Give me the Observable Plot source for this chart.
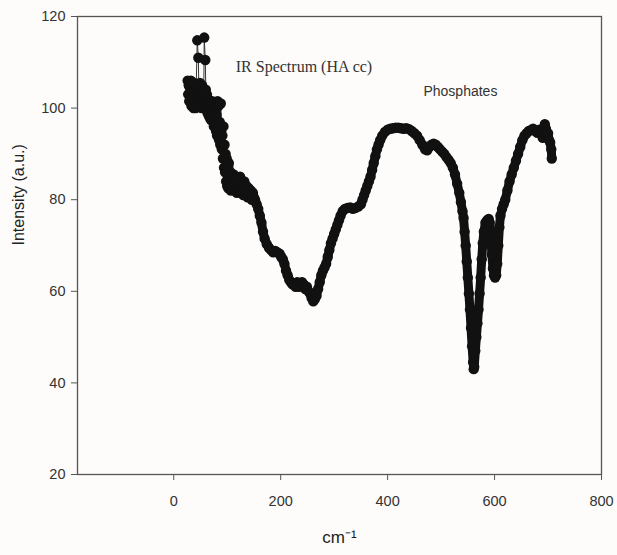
<!DOCTYPE html>
<html><head><meta charset="utf-8">
<script src="https://cdn.jsdelivr.net/npm/d3@7"></script>
<script src="https://cdn.jsdelivr.net/npm/@observablehq/plot@0.6"></script>
<style>
html,body{margin:0;padding:0;background:#fdfcfa;}
#chart svg{display:block;}
</style></head><body><div id="chart"></div>
<script>
const wavenumber = [26,27,28,29,30,31,32,33,34,35,36,37,38,39,40,41,42,44,46,47,48,49,50,51,52,53,54,55,56,57,59,60,61,62,63,64,65,66,67,68,69,70,71,72,73,74,75,76,77,78,79,80,81,82,83,84,85,86,87,88,89,90,91,92,93,94,95,96,97,98,99,100,101,102,103,104,106,107,108,110,112,114,116,118,120,122,124,126,128,130,132,134,136,138,140,142,144,146,148,150,
152,155,158,161,164,167,170,174,178,182,186,190,194,198,201,204,207,210,213,216,219,222,225,228,231,234,237,240,243,246,249,252,255,258,261,264,267,270,273,276,279,282,285,288,291,294,297,300,303,306,309,312,316,320,325,330,335,340,345,350,353,356,359,362,365,368,371,374,377,380,383,386,390,395,400,405,410,415,420,425,430,435,440,445,450,455,460,465,470,474,478,482,486,490,494,498,502,506,510,514,518,522,526,530,534,537,540,542,544,546,548,550,552,554,556,558,560,561,562,564,566,568,570,572,574,576,578,580,583,586,589,591,593,595,597,599,601,603,605,607,609,611,614,617,620,624,628,632,636,640,644,648,652,656,660,664,668,672,676,680,684,688,690,692,694,696,698,700,702,704,706,707];
const intensity = [106,103,105,101.5,104.5,102,106,100.5,105,102.5,104,100,105.5,101,103.5,100,105,114.8,111,104,101,105.5,102,104,100,105,101,103.5,102,115.4,110.5,104,100,103,99,102,98.5,101.5,98,101,97.5,100,98,101.5,97,99,96,100,96.5,99.5,95,98.5,94,101.5,96,100.5,93,97,92,101,95,91,94,89,96,87,92,86,90,84,89,83,87,82.5,88,84,86,82,85,83,85.5,82,84.5,81.5,84,82,85,81.5,83.5,81,84,81.5,83,80.5,82.5,81,82,80,81.5,80.5,
80,79,78,76.5,75,73,71.5,70.3,69.5,69,68.5,68.8,68.5,68.2,67.5,67,66,64.5,63.5,62.5,62,61.5,61.6,61,62,61,61.8,62,61.5,60.5,61,60,59.5,58.5,57.8,58.3,59,60.5,62,63.5,64.5,65.2,66,67.5,69,70.5,71.5,72.5,73.5,74.5,75.5,76.5,77.5,78,78.2,78.3,78,78.2,78.5,79,80,81,82,83,84,85,86.5,88,89.5,91,92,93,94,94.8,95.3,95.5,95.6,95.7,95.7,95.6,95.5,95.6,95.4,95,94.5,94,93,92,91,90.8,91.5,92,92.2,92,91.5,91,90.5,90,89.3,88.7,88,87,85.5,83.5,81.5,79.5,77.5,76,73,70,66.5,63,59.5,56,52,48,44.5,43,43.5,47,50,53,56,59.5,63,67,70.5,73,75,75.5,75.8,75,72,68,65,63.5,63,63.5,66,70,74,76.5,78,79,80,82,84,85.5,87,88.5,90,91.5,93,94,94.5,95,95.2,95.5,95,94.6,95.3,94.8,93.5,95,96.5,95.5,94,94.5,93,92.5,91,89];
const xTicks = [0,200,400,600,800];
const yTicks = [20,40,60,80,100,120];
const noteText = ["IR Spectrum (HA cc)", "Phosphates"];
const noteX = [116, 467];
const noteY = [109, 103.6];
const xLabel = "cm\u207B\u00B9";
const yLabel = "Intensity (a.u.)";

const data = wavenumber.map((w, i) => ({w, v: intensity[i]}));
const notes = noteText.map((t, i) => ({t, x: noteX[i], y: noteY[i]}));

const chart = Plot.plot({
  width: 617, height: 555,
  marginLeft: 77, marginRight: 16, marginTop: 16, marginBottom: 81,
  style: {background: "#fdfcfa", fontFamily: "'Liberation Sans', Arial, sans-serif", fontSize: "14px", color: "#333"},
  x: {domain: [-180, 800]},
  y: {domain: [20, 120]},
  marks: [
    Plot.frame({stroke: "#555", strokeWidth: 1.3}),
    Plot.axisX({ticks: xTicks, tickSize: 6, tickPadding: 15, label: null, fontSize: 14.5, stroke: "#555"}),
    Plot.axisY({ticks: yTicks, tickSize: 6, tickPadding: 6, label: null, fontSize: 14.5, stroke: "#555"}),
    Plot.line(data, {x: "w", y: "v", stroke: "#333", strokeWidth: 1}),
    Plot.line(data, {filter: d => d.w >= 100, x: "w", y: "v", stroke: "#111", strokeWidth: 9, strokeLinejoin: "round", strokeLinecap: "round"}),
    Plot.dot(data, {x: "w", y: "v", r: 5.2, fill: "#111"}),
    Plot.text(notes.slice(0,1), {x: "x", y: "y", text: "t", textAnchor: "start", fontFamily: "'Liberation Serif', 'Times New Roman', serif", fontSize: 16, fill: "#333"}),
    Plot.text(notes.slice(1), {x: "x", y: "y", text: "t", textAnchor: "start", fontSize: 14, fill: "#333"}),
    Plot.text([xLabel], {frameAnchor: "bottom", dy: 68, fontSize: 17, fill: "#222"}),
    Plot.text([yLabel], {frameAnchor: "left", dx: -59, rotate: -90, fontSize: 16, fill: "#222"})
  ]
});
document.getElementById("chart").appendChild(chart);
</script>
</body></html>
